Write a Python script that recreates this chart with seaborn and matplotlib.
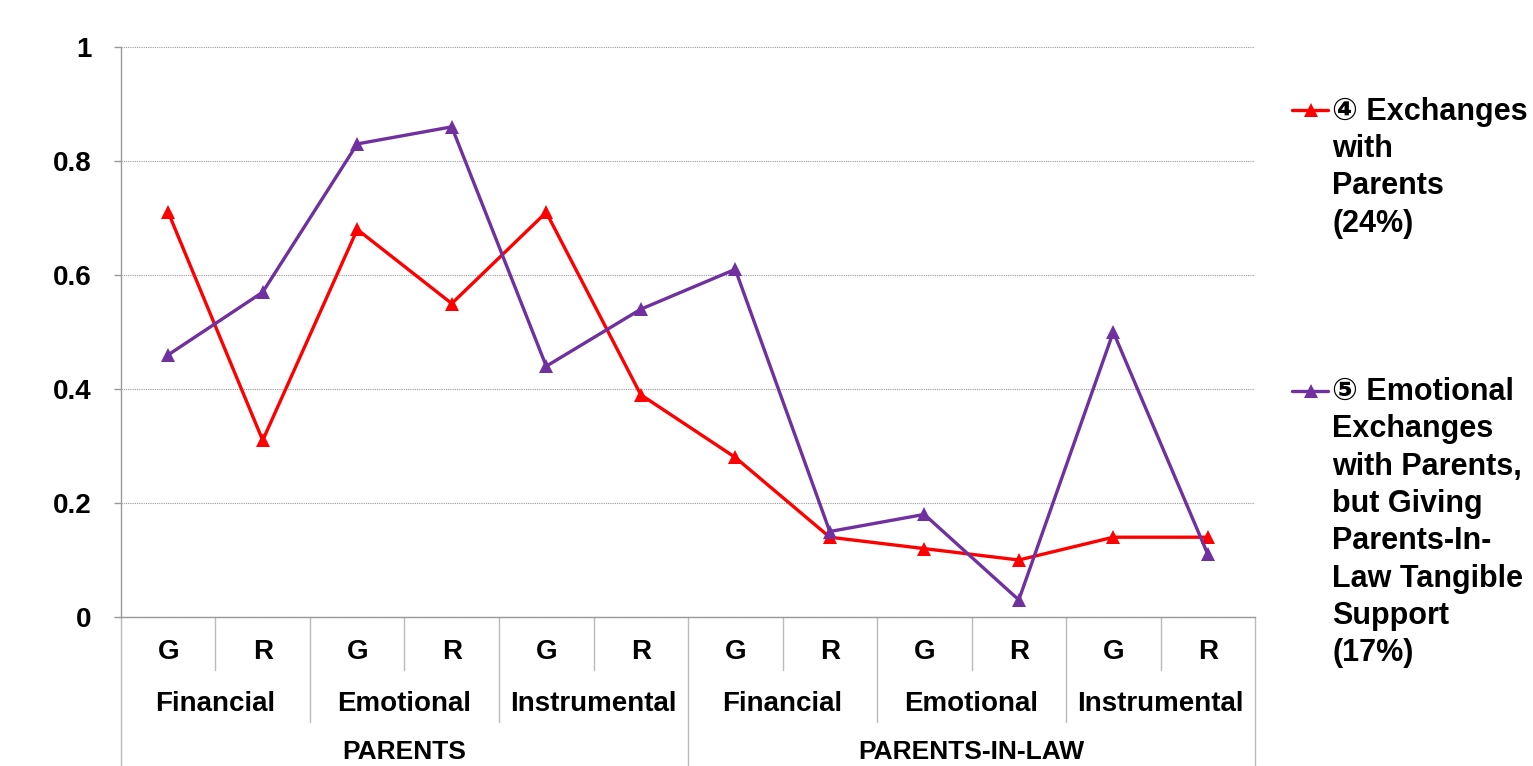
import numpy as np
import pandas as pd
import matplotlib
matplotlib.use("Agg")
import matplotlib.pyplot as plt
from matplotlib.lines import Line2D
import seaborn as sns

# data
exchange_types = ["Financial", "Emotional", "Instrumental"]
directions = ["G", "R"]
groups = ["PARENTS", "PARENTS-IN-LAW"]
series_names = ["\u2463 Exchanges\nwith\nParents\n(24%)",
                "\u2464 Emotional\nExchanges\nwith Parents,\nbut Giving\nParents-In-\nLaw Tangible\nSupport\n(17%)"]
exchanges_with_parents = [0.71, 0.31, 0.68, 0.55, 0.71, 0.39, 0.28, 0.14, 0.12, 0.10, 0.14, 0.14]
emotional_exchanges = [0.46, 0.57, 0.83, 0.86, 0.44, 0.54, 0.61, 0.15, 0.18, 0.03, 0.50, 0.11]
yticks = [0, 0.2, 0.4, 0.6, 0.8, 1]
ytick_labels = ["0", "0.2", "0.4", "0.6", "0.8", "1"]
colors = ["#FF0000", "#7030A0"]

sns.set_style("white")
plt.rcParams['font.family'] = ['Liberation Sans', 'DejaVu Sans']
plt.rcParams['text.color'] = 'black'
plt.rcParams['ytick.labelcolor'] = 'black'

n = len(exchanges_with_parents)
x = np.arange(n)
df = pd.DataFrame({
    "x": np.concatenate([x, x]),
    "value": exchanges_with_parents + emotional_exchanges,
    "series": [series_names[0]] * n + [series_names[1]] * n,
})

fig = plt.figure(figsize=(15.33, 7.66), dpi=100)
ax = fig.add_axes([0.0789, 0.1945, 0.7398, 0.7441])

sns.lineplot(data=df, x="x", y="value", hue="series", palette=colors,
             marker="^", markersize=10, markeredgewidth=0, linewidth=2.4,
             legend=False, ax=ax)

ax.set_xlim(-0.5, n - 0.5)
ax.set_ylim(0, 1)
ax.set_yticks(yticks)
ax.set_yticklabels(ytick_labels, fontsize=20, fontweight="bold")
ax.yaxis.grid(True, linestyle=(0, (1, 1)), color="#9a9a9a", linewidth=0.8)
ax.set_xticks([])
ax.set_xlabel("")
ax.set_ylabel("")
ax.tick_params(axis="y", length=5, width=1, color="#999999", pad=16, left=True)
for side in ["top", "right"]:
    ax.spines[side].set_visible(False)
for side in ["left", "bottom"]:
    ax.spines[side].set_color("#999999")
    ax.spines[side].set_linewidth(1)

# category table under the axis
trans = ax.get_xaxis_transform()
cat_font = dict(fontweight="bold", ha="center", va="center", clip_on=False, color="black")
line_kw = dict(color="#bbbbbb", linewidth=1, transform=trans, clip_on=False)
for i in range(n):
    ax.text(i, -0.061, directions[i % 2], fontsize=20, transform=trans, **cat_font)
    if i % 2 == 1:
        ax.add_line(Line2D([i - 0.5, i - 0.5], [0, -0.093], **line_kw))
for k in range(n // 2):
    ax.text(2 * k + 0.5, -0.153, exchange_types[k % 3], fontsize=20, transform=trans, **cat_font)
    if k % 3 != 0:
        ax.add_line(Line2D([2 * k - 0.5, 2 * k - 0.5], [0, -0.184], **line_kw))
for g, name in enumerate(groups):
    ax.text(6 * g + 2.5, -0.236, name, fontsize=19, transform=trans, **cat_font)
for xb in [-0.5, 5.5, n - 0.5]:
    ax.add_line(Line2D([xb, xb], [0, -0.3], **line_kw))

# legend drawn by hand to the right
legend_y = [0.856, 0.49]
for name, color, ly in zip(series_names, colors, legend_y):
    fig.add_artist(Line2D([0.843, 0.866], [ly, ly], color=color, linewidth=2.4,
                          transform=fig.transFigure))
    fig.add_artist(Line2D([0.855], [ly], color=color, marker="^", markersize=10,
                          markeredgewidth=0, transform=fig.transFigure))
    fig.text(0.869, ly + 0.018, name, fontsize=22, fontweight="bold", ha="left", va="top",
             linespacing=1.32, transform=fig.transFigure)

fig.savefig("out.png", dpi=100)
